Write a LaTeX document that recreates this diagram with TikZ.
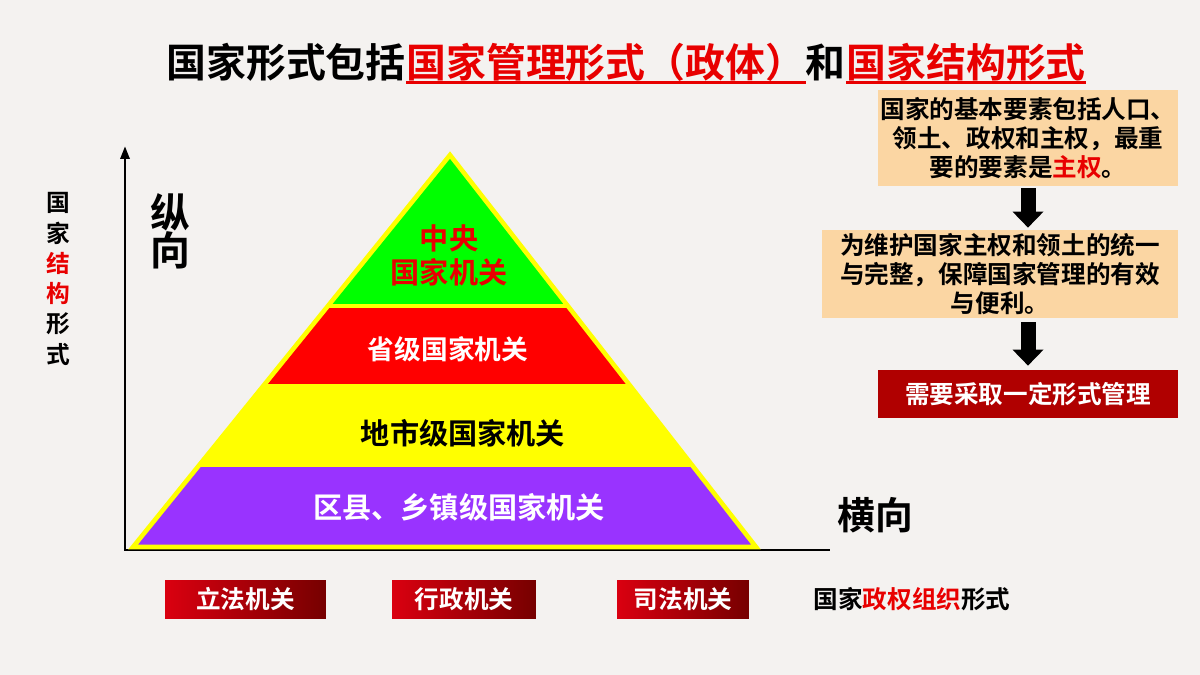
\documentclass[tikz,border=0pt]{standalone}
\usepackage{fontspec}
\setmainfont{Noto Sans CJK SC}[BoldFont={Noto Sans CJK SC Bold}]
\usepackage{tikz}
\usetikzlibrary{positioning,arrows.meta}
\usepackage{xcolor}
\definecolor{paper}{RGB}{244,242,240}
\definecolor{accent}{RGB}{232,0,0}
\definecolor{pyrgreen}{RGB}{0,255,0}
\definecolor{pyrred}{RGB}{255,0,0}
\definecolor{pyryellow}{RGB}{255,255,0}
\definecolor{pyrpurple}{RGB}{153,51,255}
\definecolor{peach}{RGB}{251,214,163}
\definecolor{boxred}{RGB}{176,0,0}
\definecolor{organl}{RGB}{218,0,16}
\definecolor{organr}{RGB}{118,0,0}

\begin{document}
\begin{tikzpicture}[x=0.02cm,y=-0.02cm,
    every node/.style={font=\bfseries},
    ttl/.style={inner sep=0pt,font=\bfseries\fontsize{22.7}{26}\selectfont},
    level/.style={inner sep=0pt,font=\bfseries\fontsize{16.6}{19.3}\selectfont},
    infobox/.style={fill=peach,align=center,inner sep=0pt,font=\bfseries\fontsize{14}{16.3}\selectfont},
    organ/.style={left color=organl,right color=organr,minimum height=0.78cm,text=white,inner sep=0pt,font=\bfseries\fontsize{14}{16}\selectfont},
    flow/.style={-{Triangle[width=0.6cm,length=0.32cm]},line width=0.3cm},
    axis/.style={line width=1.7pt,line join=miter}]
    \fill[paper] (0,0) rectangle (1200,675);
    \useasboundingbox (0,0) rectangle (1200,675);
    % Title
    \node[ttl,anchor=base west] (t1) at (166,78) {国家形式包括};
    \node[ttl,text=accent,anchor=base west] (t2) at (t1.base east) {国家管理形式（政体）};
    \node[ttl,anchor=base west] (t3) at (t2.base east) {和};
    \node[ttl,text=accent,anchor=base west] (t4) at (t3.base east) {国家结构形式};
    \draw[accent,line width=1.6pt] ([yshift=-0.09cm]t2.base west) -- ([yshift=-0.09cm]t2.base east);
    \draw[accent,line width=1.6pt] ([yshift=-0.09cm]t4.base west) -- ([yshift=-0.09cm]t4.base east);
    % Axes
    \coordinate (origin) at (125,550);
    \coordinate (ytop) at (125,146);
    \coordinate (xend) at (830,550);
    \draw[axis,{Triangle[width=0.18cm,length=0.26cm]}-] (ytop) -- (origin) -- (xend);
    \node[font=\bfseries\fontsize{22.7}{21.5}\selectfont,align=center] (vert) at (170,231) {纵\\向};
    \node[font=\bfseries\fontsize{21.5}{24}\selectfont] (horz) at (875,515) {横向};
    \node[font=\bfseries\fontsize{13.5}{17.2}\selectfont,align=center] (struct) at (58,279)
        {国\\家\\\textcolor{accent}{结}\\\textcolor{accent}{构}\\形\\式};
    % Pyramid
    \coordinate (apex) at (450,155);
    \coordinate (bl) at (133,547);
    \coordinate (br) at (756,547);
    \fill[pyryellow] (apex) -- (bl) -- (br) -- cycle;
    \begin{scope}
        \clip (apex) -- (bl) -- (br) -- cycle;
        \fill[pyrgreen] (100,140) rectangle (800,304);
        \fill[pyrred] (100,308) rectangle (800,384);
        \fill[pyrpurple] (100,467) rectangle (800,548);
    \end{scope}
    \draw[pyryellow,line width=2.6pt,line join=miter] (apex) -- (bl) -- (br) -- cycle;
    \node[level,text=accent,align=center] (central) at (449,255) {中央\\国家机关};
    \node[level,text=white,font=\bfseries\fontsize{15.2}{18}\selectfont] (prov) at (448,349) {省级国家机关};
    \node[level] (city) at (463,433) {地市级国家机关};
    \node[level,text=white] (county) at (459,507) {区县、乡镇级国家机关};
    % Right column
    \node[infobox,minimum width=6cm,minimum height=1.92cm] (box1) at (1028,138)
        {国家的基本要素包括人口、\\领土、政权和主权，最重\\要的要素是\textcolor{accent}{主权}。};
    \node[infobox,minimum width=7.12cm,minimum height=1.76cm] (box2) at (1000,274)
        {为维护国家主权和领土的统一\\与完整，保障国家管理的有效\\与便利。};
    \node[infobox,fill=boxred,text=white,minimum width=6cm,minimum height=0.96cm] (box3) at (1028,394)
        {需要采取一定形式管理};
    \draw[flow,shorten <=0.04cm,shorten >=0.04cm] (box1.south) -- (box1.south |- box2.north);
    \draw[flow,shorten <=0.08cm,shorten >=0.08cm] (box1.south |- box2.south) -- (box1.south |- box3.north);
    % Organs
    \node[organ,minimum width=3.22cm] (legis) at (245.5,599.5) {立法机关};
    \node[organ,minimum width=2.88cm] (exec) at (464,599.5) {行政机关};
    \node[organ,minimum width=2.64cm] (judic) at (683,599.5) {司法机关};
    \node[font=\bfseries\fontsize{14}{16}\selectfont] (form) at (912,599) {国家\textcolor{accent}{政权组织}形式};
\end{tikzpicture}
\end{document}
